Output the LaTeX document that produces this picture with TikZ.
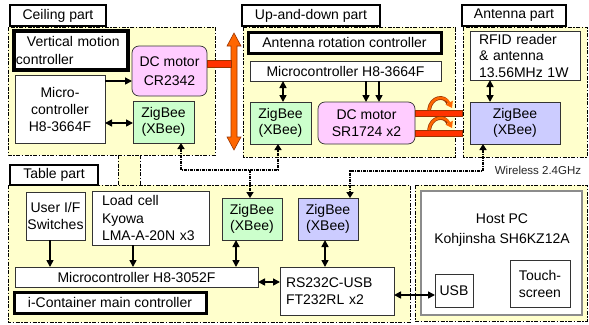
\documentclass[tikz,border=0pt]{standalone}
\usepackage{fontspec}
\setmainfont{Liberation Sans}
\usetikzlibrary{arrows.meta}
\definecolor{regy}{RGB}{255,255,204}
\definecolor{zgreen}{RGB}{204,255,204}
\definecolor{zblue}{RGB}{204,204,255}
\definecolor{mpink}{RGB}{255,204,255}
\definecolor{orng}{RGB}{255,102,0}
\definecolor{barred}{RGB}{255,51,0}
\definecolor{dkred}{RGB}{153,51,0}
\begin{document}
\begin{tikzpicture}[x=1pt,y=-1pt,
  font=\fontsize{14}{17}\selectfont,
  reg/.style={fill=regy, draw=black, line width=0.9pt, dash pattern=on 4pt off 1.5pt on 1.5pt off 1.5pt},
  regline/.style={draw=black, line width=0.9pt, dash pattern=on 4pt off 1.5pt on 1.5pt off 1.5pt},
  box/.style={draw=black!80, line width=0.7pt, fill=white, inner sep=0pt, outer sep=0pt, align=center},
  lab/.style={box, draw=black, line width=2.4pt},
  ctrl/.style={box, draw=black, line width=3.6pt},
  zbg/.style={box, fill=zgreen, font=\fontsize{14}{16}\selectfont},
  zbb/.style={box, fill=zblue, font=\fontsize{14}{16}\selectfont},
  motor/.style={box, fill=mpink, rounded corners=7pt},
  arr/.style={line width=1.6pt, -{Triangle[length=7pt,width=7pt]}},
  darr/.style={line width=1.6pt, {Triangle[length=7pt,width=7pt]}-{Triangle[length=7pt,width=7pt]}},
  wl/.style={line width=2pt, dash pattern=on 3pt off 1pt on 1pt off 1pt,
             arrows={Triangle[length=6pt,width=7pt]-Triangle[length=6pt,width=7pt]}},
  wl1/.style={line width=2pt, dash pattern=on 3pt off 1pt on 1pt off 1pt,
             -{Triangle[length=6pt,width=7pt]}},
  bar/.style={fill=barred, draw=dkred, line width=0.6pt}
]
\useasboundingbox[fill=white] (0,0) rectangle (589,324);

% regions
\draw[reg] (8,27) rectangle (215,155);
\draw[reg] (243,27) rectangle (455,157);
\draw[reg] (463,27) rectangle (587,157);
\draw[reg] (8,185) rectangle (410,322);
\draw[reg] (415,185) rectangle (587,321);
\fill[regy] (118,155.5) rectangle (140,184.5);
\draw[regline] (118,155) -- (118,185);
\draw[regline] (140,155) -- (140,185);

% labels
\node[lab, minimum width=96pt, minimum height=21pt] (ceilLab) at (58,15.5) {Ceiling part};
\node[lab, minimum width=138pt, minimum height=21pt] (updLab) at (311,15.5) {Up-and-down part};
\node[lab, minimum width=104pt, minimum height=21pt] (antLab) at (514,15.5) {Antenna part};
\node[lab, minimum width=88pt, minimum height=20pt] (tabLab) at (54,175) {Table part};

% ceiling part
\node[ctrl, minimum width=114pt, minimum height=39pt, text width=110pt, align=left,
      font=\fontsize{14}{18}\selectfont] (vmc) at (71,50.5) {\hspace*{11pt}Vertical motion\\controller};
\node[box, minimum width=90pt, minimum height=68pt] (mc1) at (60,109) {Micro-\\controller\\H8-3664F};
\node[motor, minimum width=75pt, minimum height=50pt, font=\fontsize{14}{19}\selectfont] (dc1) at (169.5,71) {DC motor\\CR2342};
\node[zbg, minimum width=61pt, minimum height=42pt] (zb1) at (163.5,122) {ZigBee\\(XBee)};

% up-and-down part
\node[ctrl, minimum width=193pt, minimum height=21pt, line width=3pt] (arc) at (344.5,42.5) {Antenna rotation controller};
\node[box, minimum width=191pt, minimum height=20pt] (mc2) at (345.5,71) {Microcontroller H8-3664F};
\node[zbg, minimum width=61pt, minimum height=42pt] (zb2) at (280.5,123) {ZigBee\\(XBee)};
\node[motor, minimum width=97pt, minimum height=42pt] (dc2) at (366.5,123) {DC motor\\SR1724 x2};

% antenna part
\node[box, minimum width=110pt, minimum height=49pt, text width=92pt, align=left,
      font=\fontsize{14}{16.5}\selectfont] (rfid) at (525,55.5) {RFID reader\\\& antenna\\13.56MHz 1W};
\node[zbb, minimum width=90pt, minimum height=42pt] (zb3) at (515,123) {ZigBee\\(XBee)};

% orange vertical arrow and bars
\filldraw[fill=orng, draw=dkred, line width=0.6pt] (234,33) -- (241,46) -- (237,46) -- (237,137) -- (241,137)
  -- (234,150) -- (227,137) -- (231,137) -- (231,46) -- (227,46) -- cycle;
\draw[bar] (dc1.east |- 0,60) rectangle (231,67);
\draw[bar] (dc2.east |- 0,110) rectangle (462,116);
\draw[bar] (dc2.east |- 0,130) rectangle (462,136);
\foreach \dy in {0,20}{
  \draw[line width=3.8pt, dkred] (429,110+\dy) .. controls (431,96+\dy) and (445,95+\dy) .. (448,103+\dy);
  \draw[line width=2.4pt, orng, -{Triangle[length=6pt,width=8pt]}] (429,110+\dy) .. controls (431,96+\dy) and (445,95+\dy) .. (452,108+\dy);
}

% table part
\node[box, minimum width=59pt, minimum height=48pt] (ui) at (55.5,216) {User I/F\\Switches};
\node[box, minimum width=117pt, minimum height=54pt, text width=97pt, align=left,
      font=\fontsize{14}{17.5}\selectfont] (lc) at (150.5,218) {Load cell\\Kyowa\\LMA-A-20N x3};
\node[box, minimum width=243pt, minimum height=20pt] (mc3) at (136.5,277) {Microcontroller H8-3052F};
\node[ctrl, minimum width=192pt, minimum height=21pt, line width=3pt] (icmc) at (110,302.5) {i-Container main controller};
\node[zbg, minimum width=60pt, minimum height=42pt] (zb4) at (252,219) {ZigBee\\(XBee)};
\node[zbb, minimum width=60pt, minimum height=42pt] (zb5) at (328,219) {ZigBee\\(XBee)};
\node[box, minimum width=114pt, minimum height=48pt, text width=102pt, align=left] (rs) at (337,291) {RS232C-USB\\FT232RL x2};

% host PC
\node[box, draw=black!45, line width=1.3pt, minimum width=161pt, minimum height=124pt] (host) at (501.5,253) {};
\node[inner sep=0pt, align=center, font=\fontsize{14}{20}\selectfont] (hostTxt) at (502,230) {Host PC\\Kohjinsha SH6KZ12A};
\node[box, minimum width=38pt, minimum height=33pt] (usb) at (454,290.5) {USB};
\node[box, minimum width=60pt, minimum height=47pt] (touch) at (540,283.5) {Touch-\\screen};

\node[inner sep=0pt, font=\fontsize{11.5}{13}\selectfont, text=black!85] (wtxt) at (538,170) {Wireless 2.4GHz};

% connectors
\draw[arr] (mc1.east |- 0,81) -- (dc1.west |- 0,81);
\draw[darr] (mc1.east |- 0,123) -- (zb1.west |- 0,123);
\draw[darr] (mc2.south -| 283,0) -- (zb2.north -| 283,0);
\draw[arr] (mc2.south -| 366,0) -- (dc2.north -| 366,0);
\draw[arr] (mc2.south -| 379,0) -- (dc2.north -| 379,0);
\draw[darr] (rfid.south -| 490,0) -- (zb3.north -| 490,0);
\draw[arr] (ui.south -| 50,0) -- (mc3.north -| 50,0);
\draw[arr] (lc.south -| 133,0) -- (mc3.north -| 133,0);
\draw[darr] (zb4.south -| 236,0) -- (mc3.north -| 236,0);
\draw[darr] (zb5.south -| 325,0) -- (rs.north -| 325,0);
\draw[darr] (mc3.east |- 0,282) -- (rs.west |- 0,282);
\draw[darr] (rs.east |- 0,295) -- (usb.west |- 0,295);

% wireless links
\coordinate (w1) at (250,170);
\coordinate (w2) at (350,171);
\draw[wl] (zb1.south -| 181,0) |- (w1) -| (zb2.south -| 278,0);
\draw[wl1] (w1) -- (zb4.north -| w1);
\draw[wl] (zb3.south -| 483,0) |- (w2) -- (zb5.north -| w2);
\end{tikzpicture}
\end{document}
